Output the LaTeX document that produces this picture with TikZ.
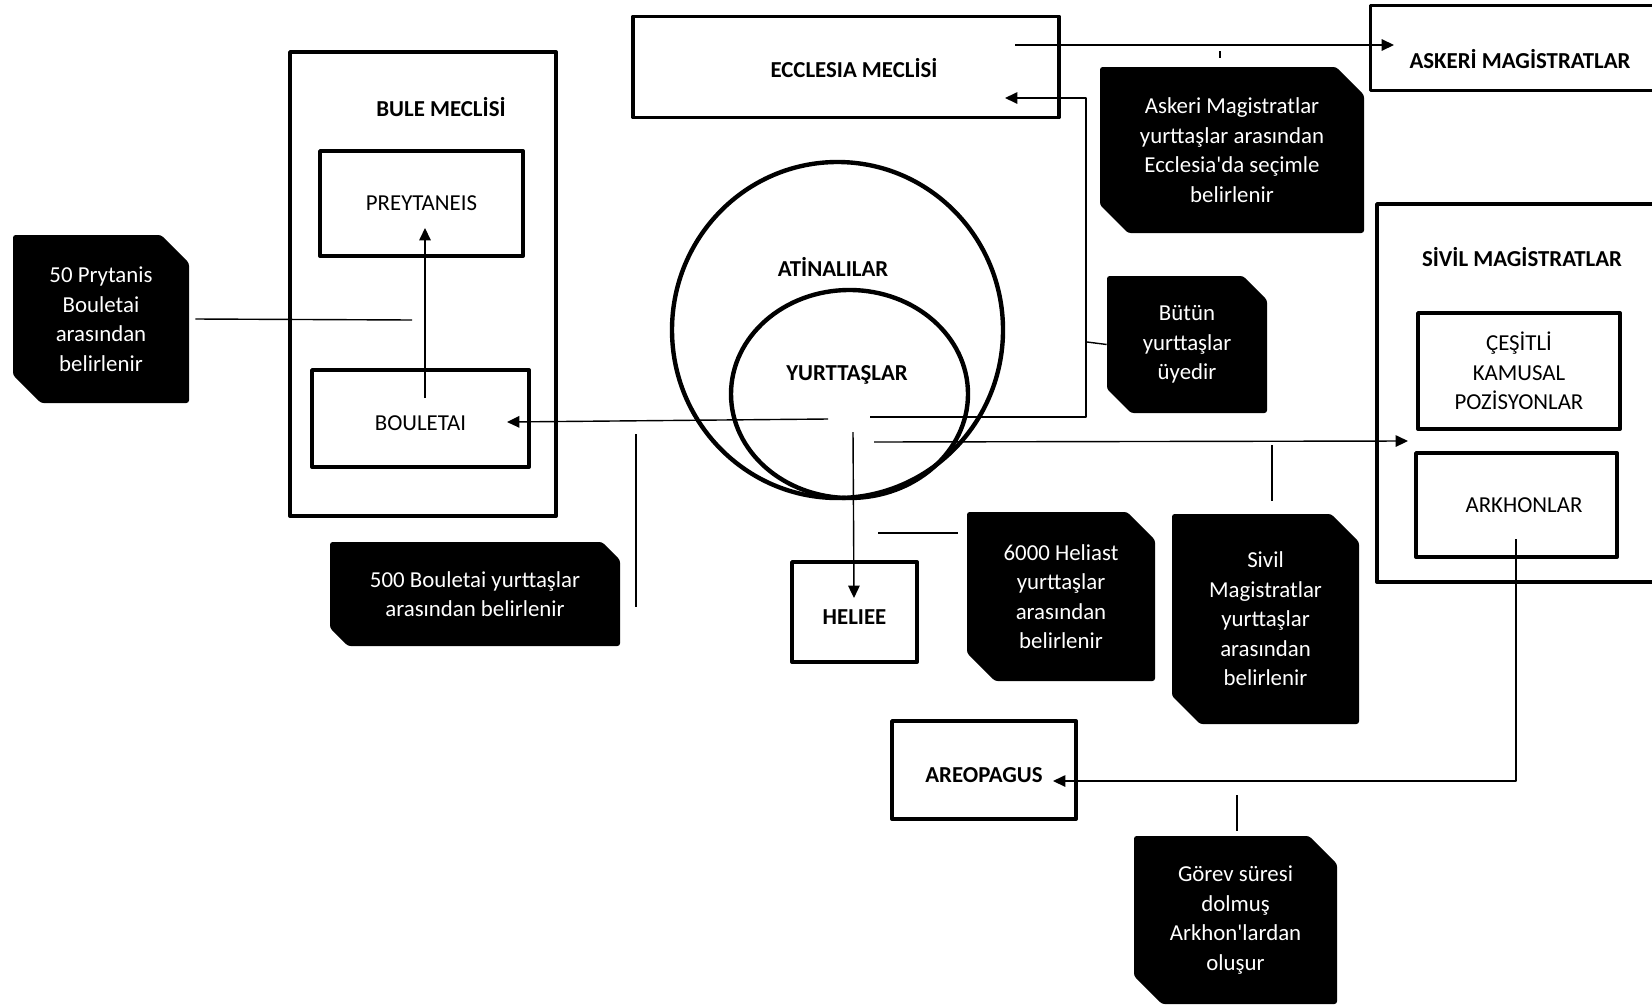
\documentclass[tikz,border=0pt]{standalone}
\usepackage{fontspec}
\setmainfont{Carlito}
\usetikzlibrary{arrows.meta, shapes.geometric, shapes.misc}

\tikzset{
  wh/.style 2 args={minimum width=#1*0.02cm, minimum height=#2*0.02cm},
  box/.style={draw, line width=2.2pt, inner sep=0pt, align=center, font=\fontsize{13}{16.8}\selectfont},
  hdr/.style={inner sep=0pt, align=center, font=\bfseries\fontsize{13}{16.8}\selectfont},
  ring/.style={ellipse, draw, line width=2.5pt, inner sep=0pt},
  note/.style={chamfered rectangle, chamfered rectangle corners={north east, south west},
    chamfered rectangle angle=45, chamfered rectangle sep=0.28cm, fill=black, text=white,
    inner sep=0pt, align=center, rounded corners=1.5pt, font=\fontsize{13}{16.8}\selectfont},
  link/.style={line width=0.8pt},
}

\begin{document}
\begin{tikzpicture}[x=0.02cm, y=-0.02cm, >={Triangle[length=7pt, width=6.5pt]}, line join=round]
        \useasboundingbox (0,0) rectangle (1652,1004);
        \clip (0,0) rectangle (1652,1004);

        \node[box, wh={426}{101}, text height=0.41cm] (ecclesia) at (846,67) {\hspace{0.32cm}\textbf{ECCLESIA MECLİSİ}};
        \node[box, wh={299}{85}] (askeri) at (1520,48) {};
        \node[hdr] (askeri-lbl) at (1520,59) {ASKERİ MAGİSTRATLAR};

        \node[box, wh={266}{464}] (bule) at (423,284) {};
        \node[hdr] (bule-lbl) at (441,107) {BULE MECLİSİ};
        \node[box, wh={203}{105}] (prey) at (421.5,203.5) {PREYTANEIS};
        \node[box, wh={217}{97}, text height=0.5cm] (boul) at (420.5,418.5) {BOULETAI};

        \node[box, wh={293}{378}] (sivil) at (1523.5,393) {};
        \node[hdr] (sivil-lbl) at (1522,257) {SİVİL MAGİSTRATLAR};
        \node[box, wh={202}{116}] (cesitli) at (1519,371) {ÇEŞİTLİ\\KAMUSAL\\POZİSYONLAR};
        \node[box, wh={201}{104}] (arkhon) at (1516.5,505) {\hspace{0.3cm}ARKHONLAR};

        \node[box, wh={125}{100}, text height=0.5cm] (heliee) at (854.5,612) {\textbf{HELIEE}};
        \node[box, wh={184}{98}, text height=0.5cm] (areo) at (984,770) {\textbf{AREOPAGUS}};

        \node[ring, wh={331}{336}] (atina) at (837.5,330) {};
        \node[ring, wh={237}{208}] (yurt) at (849.5,394) {};
        \node[hdr] (atina-lbl) at (833,267) {ATİNALILAR};
        \node[hdr] (yurt-lbl) at (847,375) {YURTTAŞLAR};

        \node[note, wh={176}{168}] (prytanis) at (101,319) {50 Prytanis\\Bouletai\\arasından\\belirlenir};
        \node[note, wh={264}{166}] (askeri-note) at (1232,150) {Askeri Magistratlar\\yurttaşlar arasından\\Ecclesia\textquotesingle da seçimle\\belirlenir};
        \node[note, wh={160}{137}, chamfered rectangle sep=0.24cm] (butun) at (1187,344.5) {Bütün\\yurttaşlar\\üyedir};
        \node[note, wh={290}{104}, chamfered rectangle sep=0.18cm] (boul-note) at (475,594) {500 Bouletai yurttaşlar\\arasından belirlenir};
        \node[note, wh={188}{169}] (heliast) at (1061,596.5) {6000 Heliast\\yurttaşlar\\arasından\\belirlenir};
        \node[note, wh={187}{210}] (sivil-note) at (1265.5,619) {Sivil\\Magistratlar\\yurttaşlar\\arasından\\belirlenir};
        \node[note, wh={203}{168}] (gorev) at (1235.5,920) {Görev süresi\\dolmuş\\Arkhon\textquotesingle lardan\\oluşur};

        \coordinate (ecc-out) at (1015,45);
        \coordinate (ask-in) at (1394,45);
        \coordinate (tick-top) at (1220,51);
        \coordinate (tick-bot) at (1220,58);
        \coordinate (yu-e) at (870,417);
        \coordinate (ecc-turn) at (1086,98);
        \coordinate (ecc-in) at (1005,98);
        \coordinate (but-tick) at (1087,342);
        \coordinate (yu-w) at (828,419);
        \coordinate (boul-in) at (507,422);
        \coordinate (boul-up) at (425,398);
        \coordinate (prey-in) at (425,228);
        \coordinate (pryt-end) at (412,320);
        \coordinate (bn-top) at (636,434);
        \coordinate (bn-bot) at (636,607);
        \coordinate (yu-s) at (853,432);
        \coordinate (hel-in) at (854,598);
        \coordinate (hl-a) at (878,533);
        \coordinate (hl-b) at (958,533);
        \coordinate (yu-se) at (874,442);
        \coordinate (siv-in) at (1408,441);
        \coordinate (sn-top) at (1272,445);
        \coordinate (sn-bot) at (1272,501);
        \coordinate (ark-out) at (1516,539);
        \coordinate (areo-in) at (1053,781);
        \coordinate (gn-top) at (1237,795);
        \coordinate (gn-bot) at (1237,831);

        \draw[link, ->] (ecc-out) -- (ask-in);
        \draw[link] (tick-top) -- (tick-bot);
        \draw[link, ->] (yu-e) -| (ecc-turn) -- (ecc-in);
        \draw[link] (but-tick) -- (butun.west);
        \draw[link, ->] (yu-w) -- (boul-in);
        \draw[link, ->] (boul-up) -- (prey-in);
        \draw[link] ([xshift=0.12cm]prytanis.east) -- (pryt-end);
        \draw[link] (bn-top) -- (bn-bot);
        \draw[link, ->] (yu-s) -- (hel-in);
        \draw[link] (hl-a) -- (hl-b);
        \draw[link, ->] (yu-se) -- (siv-in);
        \draw[link] (sn-top) -- (sn-bot);
        \draw[link, ->] (ark-out) |- (areo-in);
        \draw[link] (gn-top) -- (gn-bot);
\end{tikzpicture}
\end{document}
